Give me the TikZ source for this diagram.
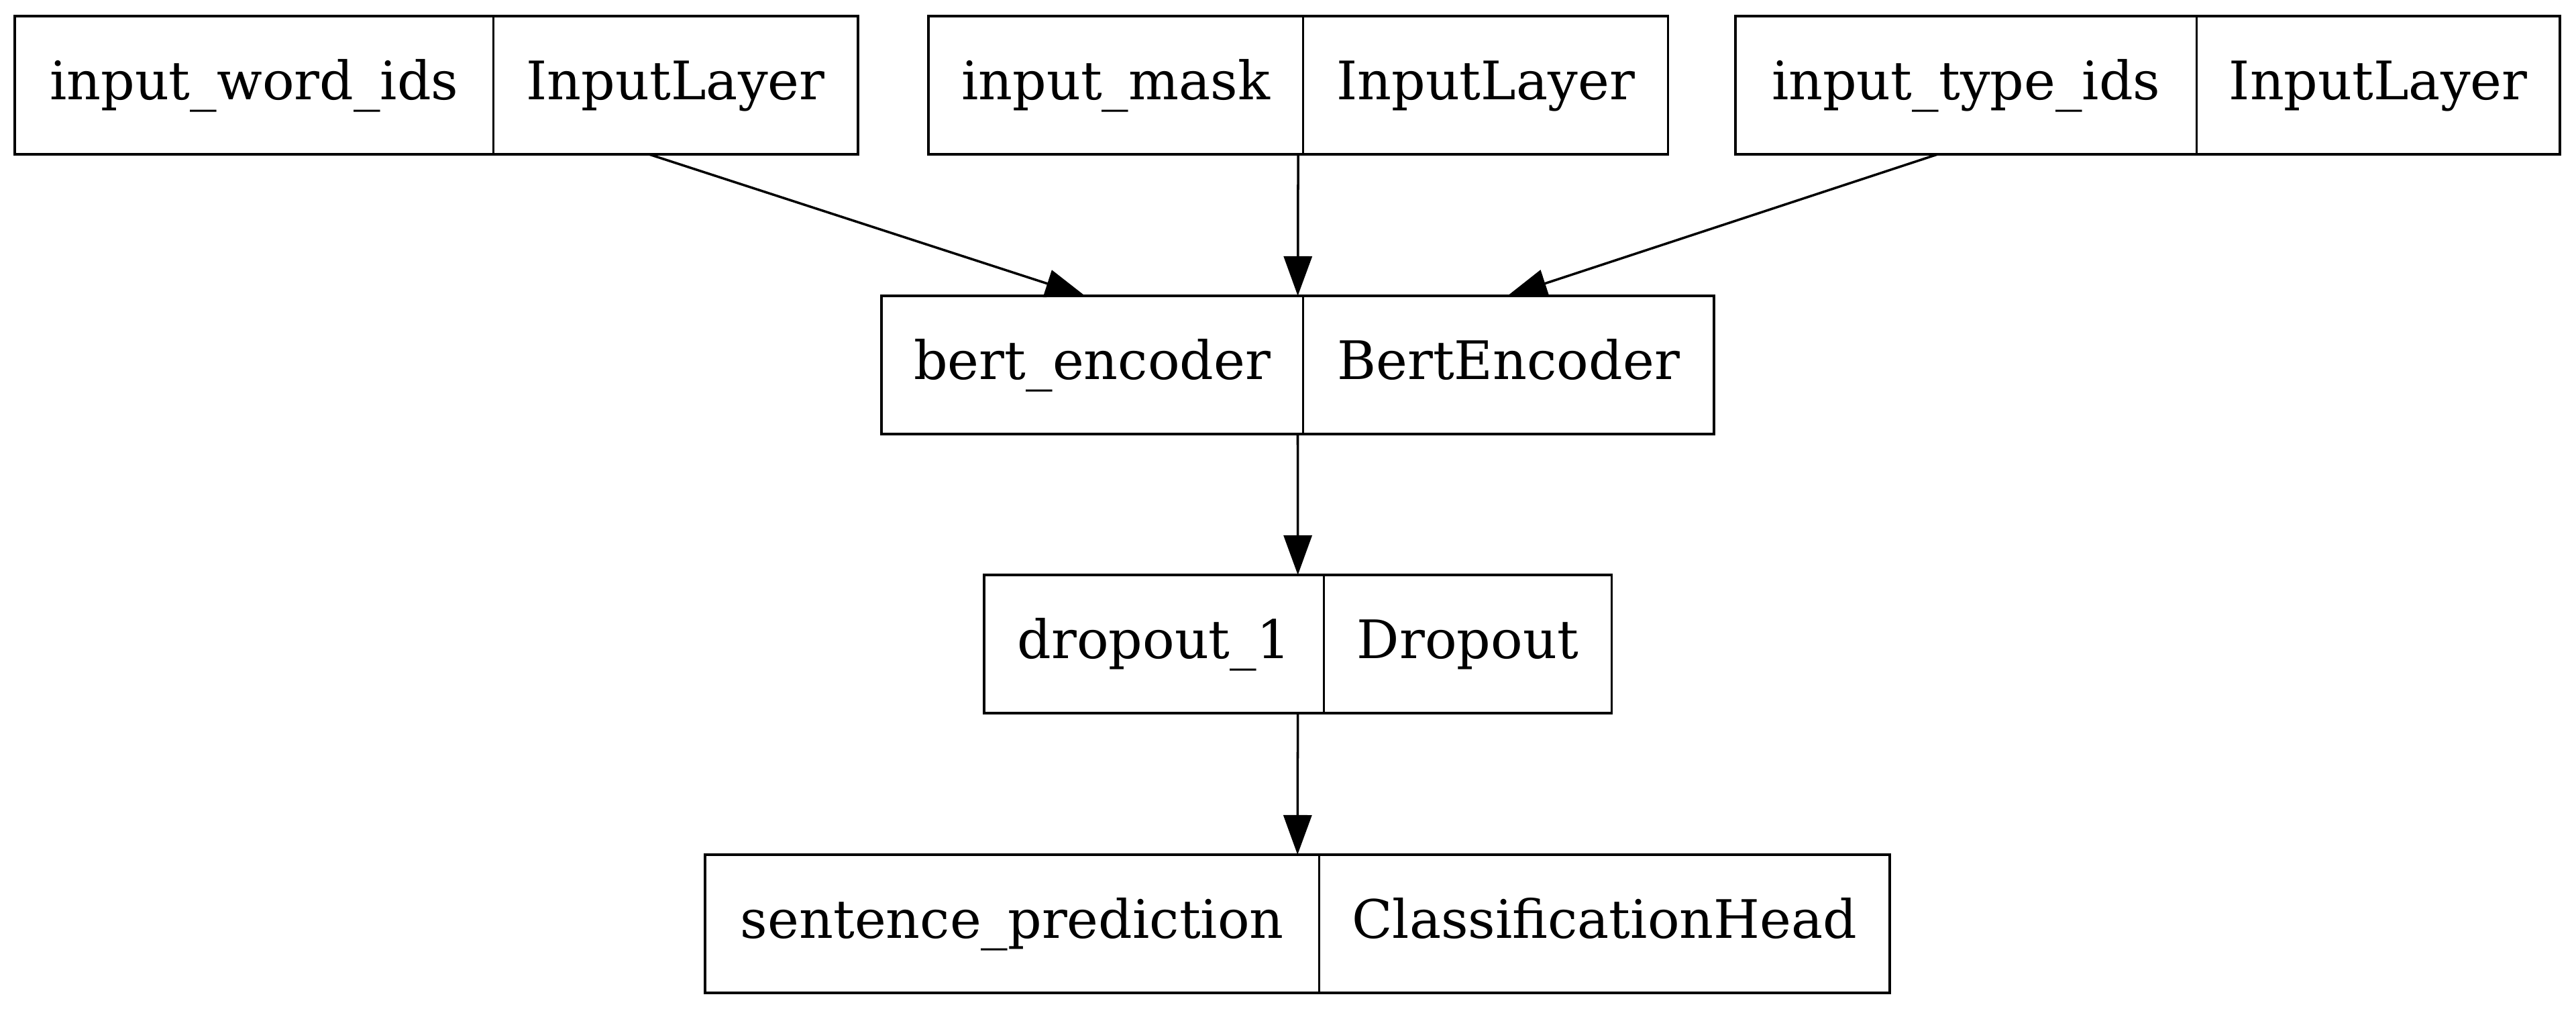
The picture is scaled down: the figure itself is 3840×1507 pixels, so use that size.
\documentclass[tikz,border=0pt]{standalone}
\usepackage{fontspec}
\setmainfont{DejaVu Serif}
\usetikzlibrary{positioning,fit,arrows.meta}

\begin{document}
\begin{tikzpicture}[x=0.01cm,y=-0.01cm,
  field/.style={draw,line width=1pt,outer sep=0pt,inner sep=0pt,minimum height=2.06cm,
    font=\fontsize{22.5}{27}\selectfont,text height=0.62cm,text depth=0.2cm},
  rec/.style={fit=#1,inner sep=0pt,outer sep=0pt},
  edge/.style={line width=1pt,-{Triangle[length=0.59cm,width=0.42cm]}}]
\useasboundingbox (0,0) rectangle (3840,1507);

% input layers
\node[field,anchor=north west,minimum width=7.13cm] (word) at (22,24) {input\_word\_ids};
\node[field,minimum width=5.43cm,right=0pt of word] (wordT) {InputLayer};
\node[field,anchor=north west,minimum width=5.58cm] (mask) at (1384,24) {input\_mask};
\node[field,minimum width=5.44cm,right=0pt of mask] (maskT) {InputLayer};
\node[field,anchor=north west,minimum width=6.87cm] (type) at (2587,24) {input\_type\_ids};
\node[field,minimum width=5.41cm,right=0pt of type] (typeT) {InputLayer};

% encoder, dropout, head
\node[field,anchor=north west,minimum width=6.28cm] (bert) at (1314,441) {bert\_encoder};
\node[field,minimum width=6.12cm,right=0pt of bert] (bertT) {BertEncoder};
\node[field,anchor=north west,minimum width=5.06cm] (drop) at (1467,857) {dropout\_1};
\node[field,minimum width=4.29cm,right=0pt of drop] (dropT) {Dropout};
\node[field,anchor=north west,minimum width=9.15cm] (head) at (1051,1274) {sentence\_prediction};
\node[field,minimum width=8.50cm,right=0pt of head] (headT) {ClassificationHead};

% whole records
\node[rec={(word)(wordT)}] (wordrec) {};
\node[rec={(mask)(maskT)}] (maskrec) {};
\node[rec={(type)(typeT)}] (typerec) {};
\node[rec={(bert)(bertT)}] (bertrec) {};
\node[rec={(drop)(dropT)}] (droprec) {};
\node[rec={(head)(headT)}] (headrec) {};

\draw[edge] (wordrec) -- (bertrec);
\draw[edge] (maskrec) -- (bertrec);
\draw[edge] (typerec) -- (bertrec);
\draw[edge] (bertrec) -- (droprec);
\draw[edge] (droprec) -- (headrec);
\end{tikzpicture}
\end{document}
